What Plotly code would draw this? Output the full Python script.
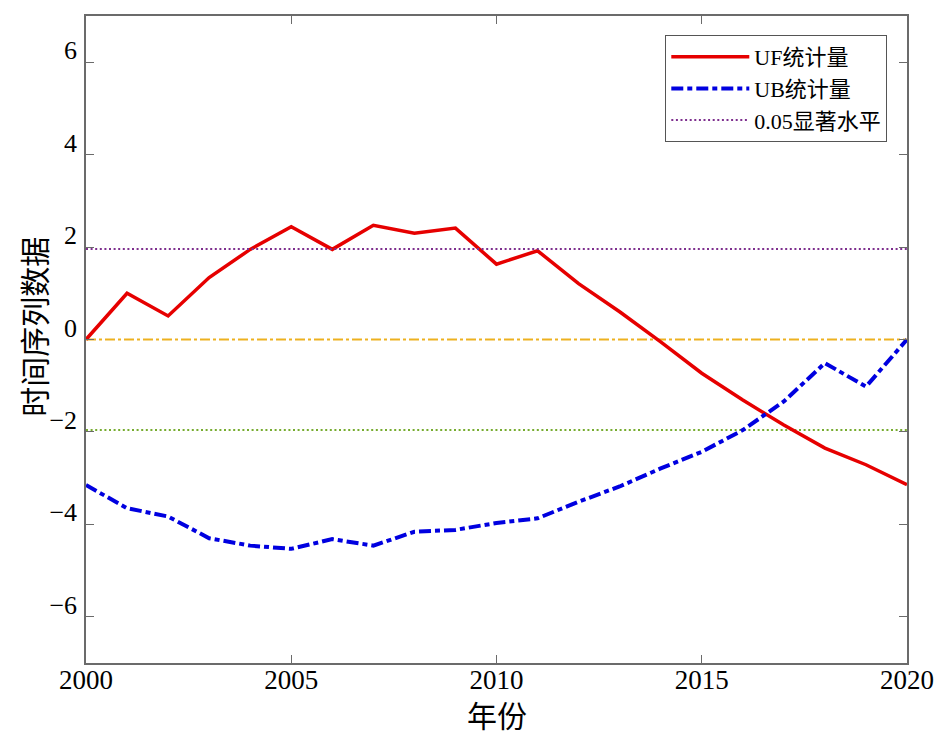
import plotly.graph_objects as go

# Mann-Kendall mutation test statistics, 2000-2020
years = list(range(2000, 2021))
uf_values = [0.0, 1.00, 0.51, 1.34, 1.95, 2.44, 1.95, 2.47, 2.30, 2.41, 1.63,
             1.92, 1.21, 0.60, -0.05, -0.73, -1.31, -1.85, -2.35, -2.71, -3.14]
ub_values = [-3.15, -3.65, -3.83, -4.30, -4.46, -4.53, -4.32, -4.46, -4.16, -4.12, -3.97,
             -3.87, -3.51, -3.18, -2.79, -2.43, -1.96, -1.34, -0.51, -1.02, 0.0]
critical_value = 1.96
x_ticks = [2000, 2005, 2010, 2015, 2020]
y_ticks = [-6, -4, -2, 0, 2, 4, 6]

series_names = ["UF统计量", "UB统计量", "0.05显著水平"]
x_title = "年份"
y_title = "时间序列数据"

serif = "Liberation Serif, Times New Roman, Noto Sans CJK SC, serif"
axis_grey = "#6b6b6b"

fig = go.Figure()

# Reference lines: zero and ±1.96 significance bounds
fig.add_trace(go.Scatter(
    x=[years[0], years[-1]], y=[0, 0], mode="lines",
    line=dict(color="#EDB120", width=2, dash="10px,3px,3px,3px"),
    showlegend=False, hoverinfo="skip"))
fig.add_trace(go.Scatter(
    x=[years[0], years[-1]], y=[-critical_value, -critical_value], mode="lines",
    line=dict(color="#77AC30", width=2, dash="2px,2.6px"),
    showlegend=False, hoverinfo="skip"))

fig.add_trace(go.Scatter(
    x=years, y=uf_values, mode="lines", name=series_names[0],
    line=dict(color="#E60000", width=3.5)))
fig.add_trace(go.Scatter(
    x=years, y=ub_values, mode="lines", name=series_names[1],
    line=dict(color="#0000E0", width=4, dash="12px,4px,5px,4px")))
fig.add_trace(go.Scatter(
    x=[years[0], years[-1]], y=[critical_value, critical_value], mode="lines",
    name=series_names[2],
    line=dict(color="#7E2F8E", width=2, dash="2px,2.6px")))

fig.update_layout(
    width=940, height=732,
    margin=dict(l=86, r=33, t=16, b=69, autoexpand=False),
    paper_bgcolor="white", plot_bgcolor="white",
    font=dict(family=serif, color="black"),
    legend=dict(
        x=0.976, y=0.9706, xanchor="right", yanchor="top",
        bgcolor="white", bordercolor="#555555", borderwidth=1,
        font=dict(family=serif, size=22, color="black"),
        itemwidth=78, tracegroupgap=0,
    ),
    xaxis=dict(
        range=[2000, 2020], tickvals=x_ticks, ticktext=[str(v) for v in x_ticks],
        ticks="inside", ticklen=8, tickwidth=1, tickcolor=axis_grey,
        showline=True, linecolor=axis_grey, linewidth=1.5, mirror="ticks",
        showgrid=False, zeroline=False, automargin=False,
        tickfont=dict(family=serif, size=27, color="black"),
        ticklabelstandoff=-8,
    ),
    yaxis=dict(
        range=[-7, 7], tickvals=y_ticks,
        ticks="inside", ticklen=8, tickwidth=1, tickcolor=axis_grey,
        showline=True, linecolor=axis_grey, linewidth=1.5, mirror="ticks",
        showgrid=False, zeroline=False, automargin=False,
        tickfont=dict(family=serif, size=26, color="black"),
        ticklabelshift=-12, ticklabelstandoff=2,
    ),
    annotations=[
        dict(text=x_title, xref="paper", yref="paper", x=0.5, y=-0.083,
             xanchor="center", yanchor="middle", showarrow=False,
             font=dict(family=serif, size=30, color="black")),
        dict(text=y_title, xref="paper", yref="paper", x=-0.062, y=0.52,
             xanchor="center", yanchor="middle", textangle=-90, showarrow=False,
             font=dict(family=serif, size=30, color="black")),
    ],
)

fig.write_html("out.html")
